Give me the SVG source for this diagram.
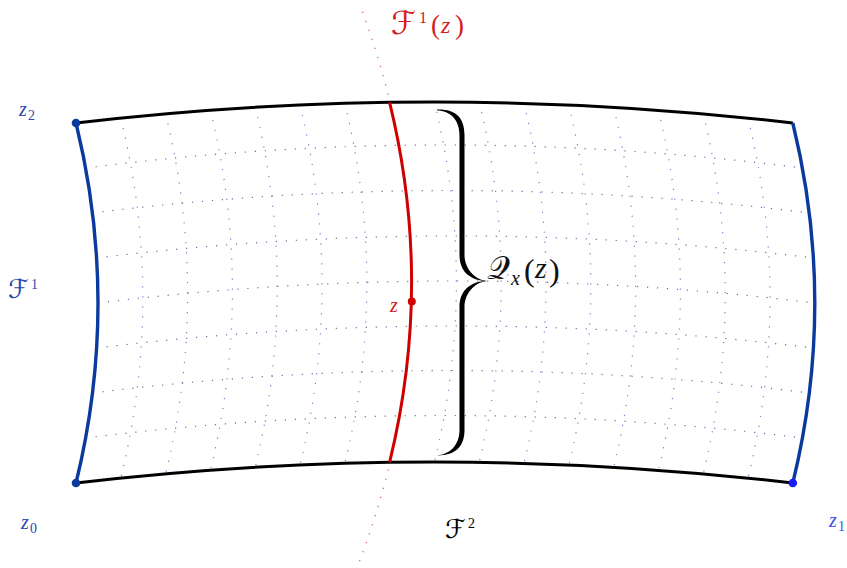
<svg xmlns="http://www.w3.org/2000/svg" width="847" height="568" viewBox="0 0 847 568">
<style>
  .gh { fill:none; stroke:#6e6e9c; stroke-width:1.2; stroke-dasharray:1.2 8.8; }
  .gv { fill:none; stroke:#7f7fd4; stroke-width:1.2; stroke-dasharray:1.2 8.8; }
  .rdot { fill:none; stroke:#e07070; stroke-width:1.3; stroke-dasharray:1.3 8.2; }
  .blk { fill:none; stroke:#000; stroke-width:3; }
  .blu { fill:none; stroke:#0b3a9e; stroke-width:3.4; }
  .red { fill:none; stroke:#d00000; stroke-width:3; }
  .m { font-family:"Liberation Serif","Times New Roman",serif; }
  .it { font-style:italic; }
  .cal { font-family:"DejaVu Serif","DejaVu Sans",serif; font-style:normal; }
</style>
<rect width="847" height="568" fill="#fff"/>
<g id="grid">
  <path class="gv" d="M120.8,118.1 Q164.8,298.1 120.8,478.1"/>
  <path class="gv" d="M165.6,113.8 Q209.6,293.8 165.6,473.8"/>
  <path class="gv" d="M210.4,110.2 Q254.4,290.2 210.4,470.2"/>
  <path class="gv" d="M255.2,107.25 Q299.2,287.25 255.2,467.25"/>
  <path class="gv" d="M300,105 Q344,285 300,465"/>
  <path class="gv" d="M344.8,103.3 Q388.8,283.3 344.8,463.3"/>
  <path class="gv" d="M434.4,102 Q478.4,282 434.4,462"/>
  <path class="gv" d="M479.2,102.3 Q523.2,282.3 479.2,462.3"/>
  <path class="gv" d="M524,103.3 Q568,283.3 524,463.3"/>
  <path class="gv" d="M568.8,105 Q612.8,285 568.8,465"/>
  <path class="gv" d="M613.6,107.25 Q657.6,287.25 613.6,467.25"/>
  <path class="gv" d="M658.4,110.2 Q702.4,290.2 658.4,470.2"/>
  <path class="gv" d="M703.2,113.8 Q747.2,293.8 703.2,473.8"/>
  <path class="gv" d="M748,118.1 Q792,298.1 748,478.1"/>
  <path class="gh" d="M85.6,168 Q444,122 802.4,168"/>
  <path class="gh" d="M92.5,213 Q450.9,168 809.3,213"/>
  <path class="gh" d="M96.6,258 Q455,214 813.4,258"/>
  <path class="gh" d="M98,303 Q456.4,259 814.8,303"/>
  <path class="gh" d="M96.6,348 Q455,304 813.4,348"/>
  <path class="gh" d="M92.5,393 Q450.9,348 809.3,393"/>
  <path class="gh" d="M85.6,438 Q444,393 802.4,438"/>
</g>
<g id="connectors">
  <path id="leaf-ext" class="rdot" d="M362.5,11.75 Q463.15,287 359.1,562.3"/>
  <path id="edge-top" class="blk" d="M76,123 Q434.4,81 792.8,123"/>
  <path id="edge-bottom" class="blk" d="M76,483 Q434.4,441 792.8,483"/>
  <path id="edge-left" class="blu" d="M76,123 Q120,303 76,483"/>
  <path id="edge-right" class="blu" d="M792.8,123 Q836.8,303 792.8,483"/>
  <path id="leaf" class="red" d="M389.6,102.3 Q433.6,282.3 389.6,462.3"/>
</g>
<g id="z2">
  <circle cx="76" cy="123" r="4.3" fill="#0b3a9e"/>
  <text class="m" fill="#2a48ac" font-size="20"><tspan class="it" x="19" y="116">z</tspan><tspan x="28" y="120" font-size="14">2</tspan></text>
</g>
<g id="z0">
  <circle cx="76" cy="483" r="4.3" fill="#0b3a9e"/>
  <text class="m" fill="#2a48ac" font-size="20"><tspan class="it" x="21" y="529">z</tspan><tspan x="30" y="533" font-size="14">0</tspan></text>
</g>
<g id="z1">
  <circle cx="792.8" cy="483" r="4.3" fill="#1a1aff"/>
  <text class="m" fill="#3350ee" font-size="20"><tspan class="it" x="829" y="527">z</tspan><tspan x="838" y="531" font-size="14">1</tspan></text>
</g>
<g id="z">
  <circle cx="411.8" cy="301.5" r="4" fill="#d00000"/>
  <text class="m it" fill="#d02020" font-size="20" x="390" y="312">z</text>
</g>
<g id="label-F1-left">
  <text class="m" fill="#2a48ac" font-size="20"><tspan class="cal" x="8" y="298" font-size="26">ℱ</tspan><tspan x="31" y="289" font-size="14">1</tspan></text>
</g>
<g id="label-F2">
  <text class="m" fill="#000" font-size="20"><tspan class="cal" x="445" y="538" font-size="26">ℱ</tspan><tspan x="468" y="528" font-size="14">2</tspan></text>
</g>
<g id="label-F1z">
  <text class="m" fill="#d02020" font-size="24"><tspan class="cal" x="391" y="34" font-size="32">ℱ</tspan><tspan x="419" y="23" font-size="16">1</tspan><tspan x="431" y="34" font-size="27">(</tspan><tspan class="it" x="441" y="33">z</tspan><tspan x="455" y="34" font-size="27">)</tspan></text>
</g>
<g id="brace">
  <path fill="#000" d="M437,109.6 C455,109 464.5,117 464.5,135 L464.5,255 C464.5,268 474,279.6 487,281 C474,282.4 464.5,294 464.5,307 L464.5,430 C464.5,447 455,455.6 437,455.4 C450,454.4 459.5,445 459.5,430 L459.5,307 C459.5,292 468,283 484,281 C468,279 459.5,270 459.5,255 L459.5,135 C459.5,120 450,110.6 437,110.6 Z"/>
  <text class="m" fill="#111" font-size="30"><tspan class="cal" x="487" y="279" font-size="32">𝒬</tspan><tspan class="it" x="511" y="285" font-size="20">x</tspan><tspan x="524" y="281" font-size="32">(</tspan><tspan class="it" x="535" y="278">z</tspan><tspan x="549" y="281" font-size="32">)</tspan></text>
</g>
</svg>
